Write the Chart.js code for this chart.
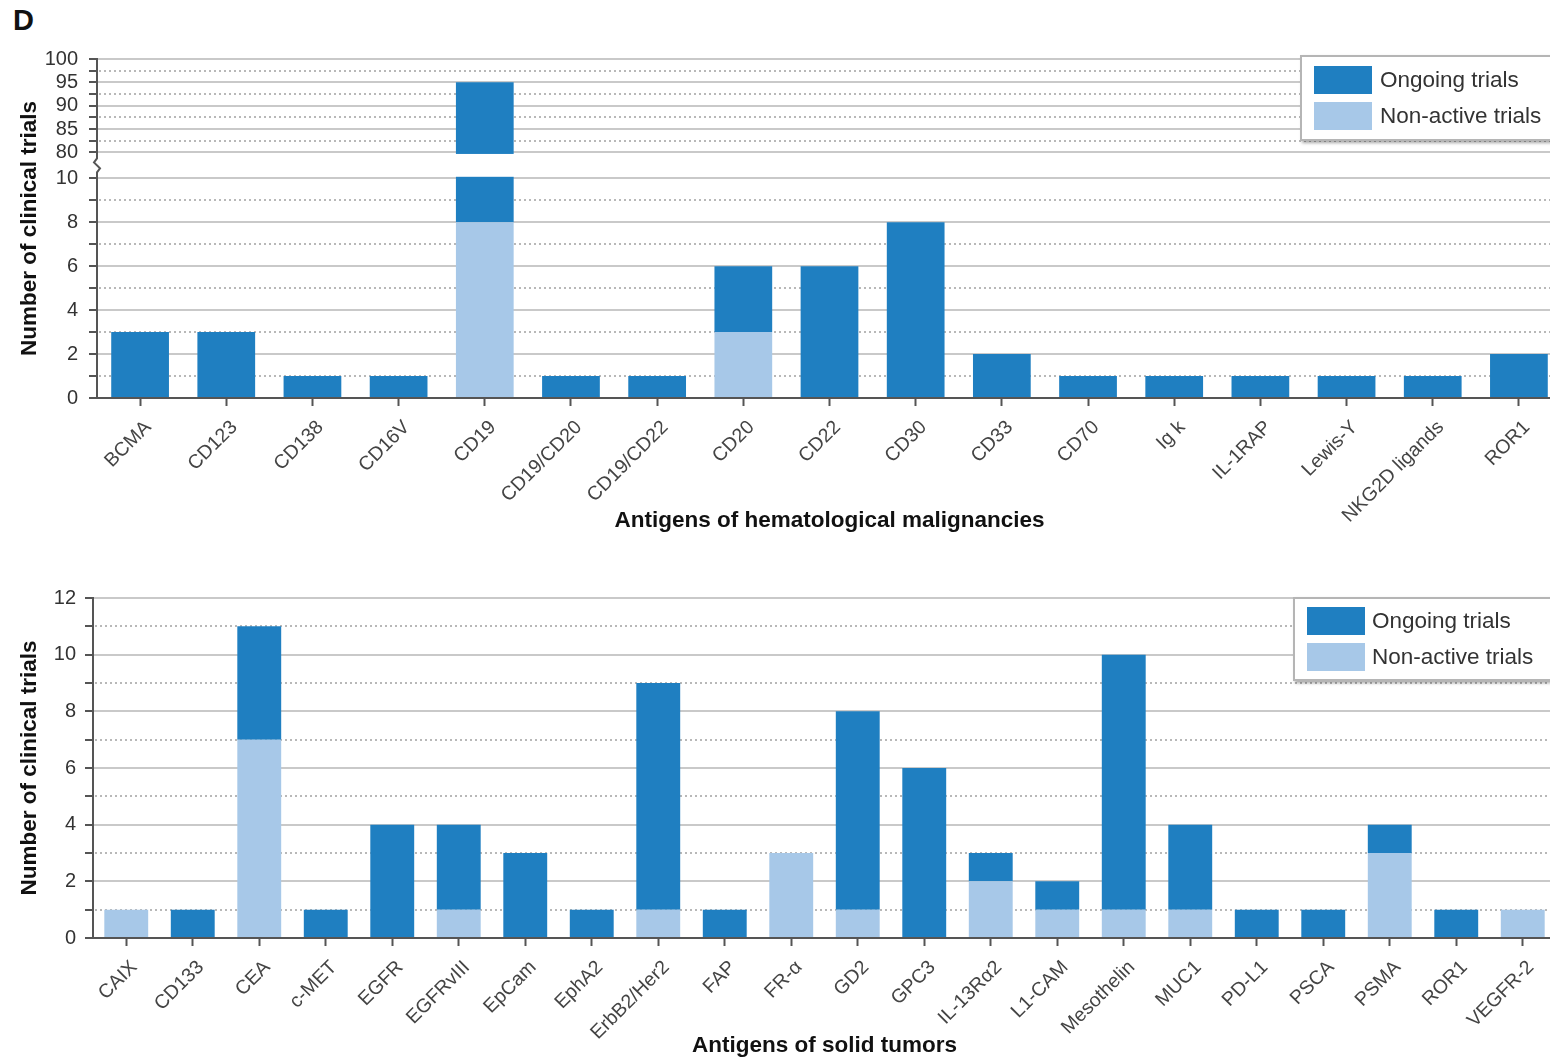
<!DOCTYPE html>
<html><head><meta charset="utf-8">
<script src="https://cdn.jsdelivr.net/npm/chart.js@4/dist/chart.umd.min.js"></script>
<style>
html,body{margin:0;padding:0;width:1550px;height:1060px;overflow:hidden;background:#fff;font-family:"Liberation Sans",Arial,sans-serif;}
.box{position:absolute;}
.legend{position:absolute;background:#fff;border:2px solid #b5b5b5;box-shadow:2px 2px 3px rgba(0,0,0,0.35);}
.sw{position:absolute;width:58px;height:28px;}
.lt{position:absolute;font-size:22.5px;color:#333;white-space:nowrap;line-height:28px;}
</style></head><body>
<div style="position:absolute;left:13px;top:4px;font-weight:bold;font-size:29px;color:#111">D</div>
<div class="box" style="left:0;top:36px;width:1562px;height:502px"><canvas id="hema"></canvas></div>
<div class="box" style="left:0;top:577px;width:1556px;height:483px"><canvas id="solid"></canvas></div>
<div class="legend" id="legHema" style="left:1300px;top:55px;width:290px;height:82px"></div>
<div class="legend" id="legSolid" style="left:1293px;top:597px;width:290px;height:80px"></div>
<script>
// ---------- DATA ----------
const seriesNames = ['Ongoing trials', 'Non-active trials'];
const seriesColors = ['#1f7fc1', '#a7c8e8'];

const hemaCategories = ['BCMA','CD123','CD138','CD16V','CD19','CD19/CD20','CD19/CD22','CD20','CD22','CD30','CD33','CD70','Ig k','IL-1RAP','Lewis-Y','NKG2D ligands','ROR1'];
const hemaOngoing   = [3, 3, 1, 1, 87, 1, 1, 3, 6, 8, 2, 1, 1, 1, 1, 1, 2];
const hemaNonActive = [0, 0, 0, 0, 8, 0, 0, 3, 0, 0, 0, 0, 0, 0, 0, 0, 0];
const hemaMajorTicks = [0, 2, 4, 6, 8, 10, 80, 85, 90, 95, 100];
const hemaMinorTicks = [1, 3, 5, 7, 9, 82.5, 87.5, 92.5, 97.5];

const solidCategories = ['CAIX','CD133','CEA','c-MET','EGFR','EGFRvIII','EpCam','EphA2','ErbB2/Her2','FAP','FR-α','GD2','GPC3','IL-13Rα2','L1-CAM','Mesothelin','MUC1','PD-L1','PSCA','PSMA','ROR1','VEGFR-2'];
const solidOngoing   = [0, 1, 4, 1, 4, 3, 3, 1, 8, 1, 0, 7, 6, 1, 1, 9, 3, 1, 1, 1, 1, 0];
const solidNonActive = [1, 0, 7, 0, 0, 1, 0, 0, 1, 0, 3, 1, 0, 2, 1, 1, 1, 0, 0, 3, 0, 1];
const solidMajorTicks = [0, 2, 4, 6, 8, 10, 12];
const solidMinorTicks = [1, 3, 5, 7, 9, 11];

// ---------- broken linear scale ----------
class BrokenLinearScale extends Chart.LinearScale {
  buildTicks() {
    return this.options.tickValues.map(v => ({ value: v }));
  }
  _toDecimal(v) {
    const [lo, hi] = this.options.breakRange;
    const [fa, fb] = this.options.breakFrac;
    const min = this.min, max = this.max;
    if (v <= lo) return (v - min) / (lo - min) * fa;
    if (v >= hi) return fb + (v - hi) / (max - hi) * (1 - fb);
    return fa + (v - lo) / (hi - lo) * (fb - fa);
  }
  getPixelForValue(v) {
    if (v === null || v === undefined) return NaN;
    return this.getPixelForDecimal(this._toDecimal(v));
  }
  getValueForPixel(p) {
    const d = this.getDecimalForPixel(p);
    const [lo, hi] = this.options.breakRange;
    const [fa, fb] = this.options.breakFrac;
    if (d <= fa) return this.min + d / fa * (lo - this.min);
    if (d >= fb) return hi + (d - fb) / (1 - fb) * (this.max - hi);
    return lo + (d - fa) / (fb - fa) * (hi - lo);
  }
}
BrokenLinearScale.id = 'brokenLinear';
BrokenLinearScale.defaults = Object.assign({}, Chart.LinearScale.defaults);
Chart.register(BrokenLinearScale);

// ---------- plugins ----------
const minorGridPlugin = {
  id: 'minorGrid',
  beforeDatasetsDraw(chart, args, opts) {
    const { ctx, chartArea: { left, right } } = chart;
    const y = chart.scales.y;
    ctx.save();
    ctx.strokeStyle = '#b8b8b8';
    ctx.lineWidth = 2;
    ctx.setLineDash([2, 3]);
    for (const v of opts.values || []) {
      const py = Math.round(y.getPixelForValue(v));
      ctx.beginPath(); ctx.moveTo(left + 2, py); ctx.lineTo(right, py); ctx.stroke();
    }
    ctx.restore();
  }
};
const breakPlugin = {
  id: 'axisBreak',
  afterDatasetsDraw(chart, args, opts) {
    if (!opts.range) return;
    const { ctx, chartArea: { left, right } } = chart;
    const y = chart.scales.y;
    const pTop = y.getPixelForValue(opts.range[1]);
    const pBot = y.getPixelForValue(opts.range[0]);
    ctx.save();
    ctx.fillStyle = '#fff';
    ctx.fillRect(left - 3, pTop + 1.5, right - left + 3, pBot - pTop - 3);
    ctx.strokeStyle = '#555';
    ctx.lineWidth = 2;
    const mid = (pTop + pBot) / 2;
    ctx.beginPath();
    ctx.moveTo(left, pTop);
    ctx.lineTo(left, mid - 7);
    ctx.lineTo(left - 3, mid - 3);
    ctx.lineTo(left + 3, mid + 3);
    ctx.lineTo(left, mid + 7);
    ctx.lineTo(left, pBot);
    ctx.stroke();
    ctx.restore();
  }
};
Chart.register(minorGridPlugin, breakPlugin);

Chart.defaults.font.family = '"Liberation Sans", Arial, sans-serif';
Chart.defaults.color = '#333';

function makeChart(id, cats, ongoing, nonActive, cfg) {
  const isMajor = v => cfg.major.includes(v);
  return new Chart(document.getElementById(id), {
    type: 'bar',
    data: {
      labels: cats,
      datasets: [
        { label: seriesNames[1], data: nonActive, backgroundColor: seriesColors[1], borderWidth: 0, stack: 's' },
        { label: seriesNames[0], data: ongoing, backgroundColor: seriesColors[0], borderWidth: 0, stack: 's' }
      ]
    },
    options: {
      responsive: true,
      maintainAspectRatio: false,
      animation: false,
      layout: { padding: { top: 0, right: 0, bottom: 0, left: 0 } },
      datasets: { bar: { categoryPercentage: 1, barPercentage: cfg.barPct } },
      plugins: {
        legend: { display: false },
        tooltip: { enabled: false },
        minorGrid: { values: cfg.minor },
        axisBreak: { range: cfg.breakRange || null }
      },
      scales: {
        x: {
          stacked: true,
          grid: { drawOnChartArea: false, offset: false, drawTicks: true, tickLength: 8, tickColor: '#555', tickWidth: 2 },
          border: { color: '#555', width: 2 },
          ticks: { autoSkip: false, minRotation: 45, maxRotation: 45, padding: 10, labelOffset: 8, color: '#444', font: { size: 19.5 } },
          title: { display: true, text: cfg.xTitle, color: '#111', font: { size: 22.5, weight: 'bold' }, padding: { top: 0, bottom: cfg.xTitlePad } },
          afterFit: s => { s.height = cfg.xHeight; }
        },
        y: Object.assign({
          stacked: true,
          min: cfg.min, max: cfg.max,
          grid: {
            color: c => (c.tick && isMajor(c.tick.value)) ? '#c9c9c9' : 'rgba(0,0,0,0)',
            lineWidth: 2,
            drawTicks: true, tickLength: 8, tickColor: '#555', tickWidth: 2
          },
          border: { color: '#555', width: 2 },
          ticks: {
            autoSkip: false, stepSize: 1, padding: cfg.yTickPad, color: '#333', font: { size: 20 },
            callback: v => isMajor(v) ? String(v) : ''
          },
          title: { display: true, text: 'Number of clinical trials', color: '#111', font: { size: 22.5, weight: 'bold' }, padding: { top: 16, bottom: 0 } },
          afterFit: s => { s.width = cfg.yWidth; }
        }, cfg.yExtra || {})
      }
    }
  });
}

makeChart('hema', hemaCategories, hemaOngoing, hemaNonActive, {
  major: hemaMajorTicks, minor: hemaMinorTicks, min: 0, max: 100,
  breakRange: [10, 80],
  yExtra: { type: 'brokenLinear', tickValues: hemaMajorTicks.concat(hemaMinorTicks).sort((a, b) => a - b), breakRange: [10, 80], breakFrac: [221 / 341, 247 / 341] },
  barPct: 0.67, xTitle: 'Antigens of hematological malignancies', xTitlePad: 4, xHeight: 140,
  yWidth: 97, yTickPad: 11
});

makeChart('solid', solidCategories, solidOngoing, solidNonActive, {
  major: solidMajorTicks, minor: solidMinorTicks, min: 0, max: 12,
  barPct: 0.66, xTitle: 'Antigens of solid tumors', xTitlePad: 1, xHeight: 122,
  yWidth: 93, yTickPad: 9
});

// ---------- legends ----------
function buildLegend(id, swLeft, txtLeft, tops) {
  const el = document.getElementById(id);
  seriesNames.forEach((name, i) => {
    const sw = document.createElement('div');
    sw.className = 'sw';
    sw.style.left = swLeft + 'px'; sw.style.top = tops[i] + 'px';
    sw.style.background = seriesColors[i];
    el.appendChild(sw);
    const t = document.createElement('div');
    t.className = 'lt';
    t.style.left = txtLeft + 'px'; t.style.top = tops[i] + 'px';
    t.textContent = name;
    el.appendChild(t);
  });
}
buildLegend('legHema', 12, 78, [9, 45]);
buildLegend('legSolid', 12, 77, [8, 44]);
</script>
</body></html>
